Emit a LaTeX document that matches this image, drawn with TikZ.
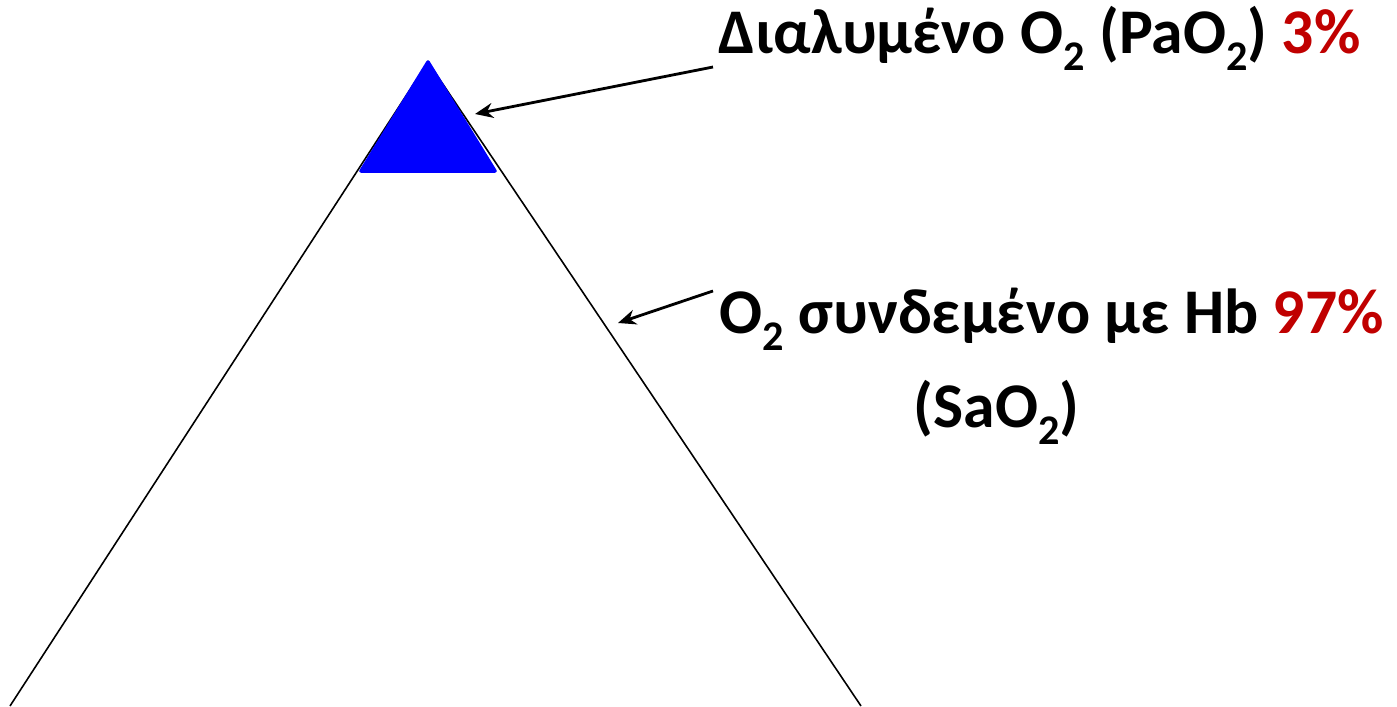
\documentclass[tikz,border=0pt]{standalone}
\usepackage{fontspec}
\setmainfont{Carlito}
\usepackage{xcolor}
\usetikzlibrary{positioning, arrows.meta}

\definecolor{pctred}{HTML}{C00000}
\definecolor{poolblue}{HTML}{0000FF}
\newcommand{\subtwo}{\raisebox{-0.27em}{\fontsize{12}{14}\selectfont 2}}

\tikzset{
  label text/.style={font=\fontsize{18.1}{22}\selectfont\bfseries, inner sep=0pt, anchor=base west},
  pointer/.style={line width=0.8pt, -{Stealth[length=1.8mm, width=1.5mm]}},
  pyramid/.style={line width=0.45pt, line join=miter},
}

\begin{document}
\begin{tikzpicture}[x=0.01cm, y=-0.01cm]
  \useasboundingbox (0,0) rectangle (1397,706);
  % outer pyramid
  \coordinate (baseL) at (10,706);
  \coordinate (apex) at (428,62);
  \coordinate (baseR) at (861,706);
  \draw[pyramid] (baseL) -- (apex) -- (baseR);
  % dissolved part on top
  \coordinate (topL) at (361,171);
  \coordinate (topR) at (495,171);
  \fill[poolblue, draw=poolblue, line width=1pt, line join=round] (apex) -- (topR) -- (topL) -- cycle;

  % labels
  \node[label text] (dissolved) at (718,53) {Διαλυμένο O\subtwo{} (PaO\subtwo) \textcolor{pctred}{3\%}};
  \node[label text] (bound) at (719,333) {O\subtwo{} συνδεμένο με Hb \textcolor{pctred}{97\%}};
  \node[label text] (sat) at (913,427) {(SaO\subtwo)};

  % arrows
  \coordinate (tipA) at (475,114);
  \coordinate (tipB) at (618,323);
  \draw[pointer] ([xshift=-0.05cm, yshift=-0.14cm]dissolved.base west) -- (tipA);
  \draw[pointer] ([xshift=-0.06cm, yshift=0.42cm]bound.base west) -- (tipB);
\end{tikzpicture}
\end{document}
